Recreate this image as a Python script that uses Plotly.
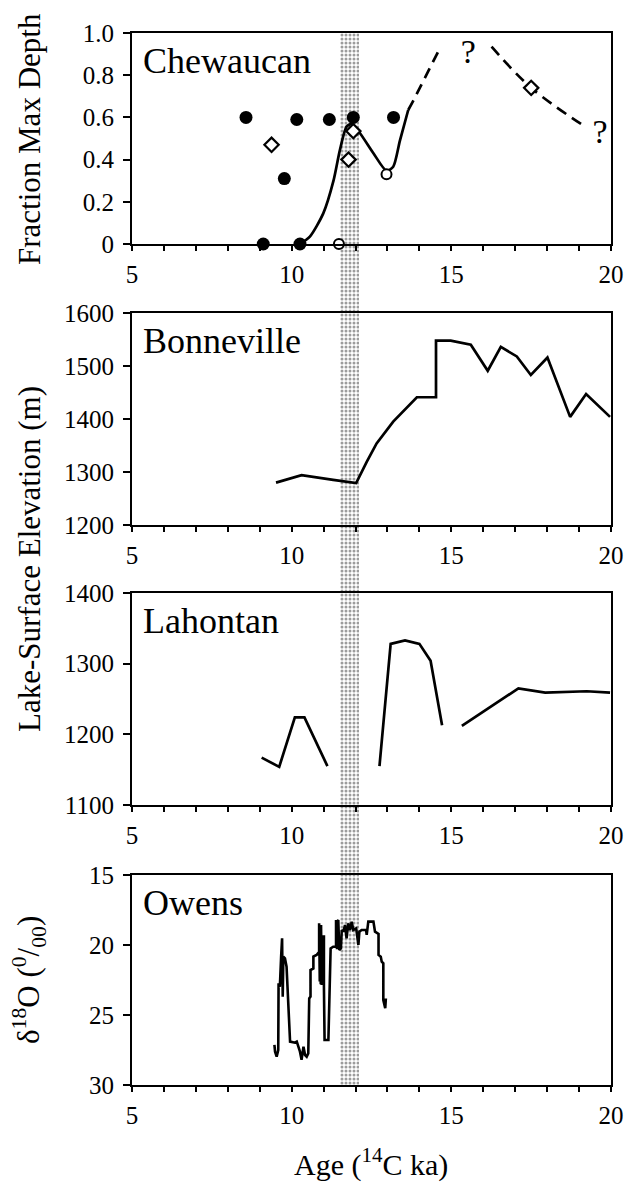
import plotly.graph_objects as go

W, H = 626, 1186
FONT = "Times New Roman, Liberation Serif, serif"

# ---------------- data ----------------
age_ticks = [5, 10, 15, 20]

# Chewaucan (fraction of max depth)
chew_fill_x = [8.57, 9.11, 9.77, 10.16, 10.26, 11.18, 11.93, 13.19]
chew_fill_y = [0.60, 0.0, 0.31, 0.59, 0.0, 0.59, 0.60, 0.60]
chew_open_x = [11.48, 12.97]
chew_open_y = [0.0, 0.33]
chew_diam_x = [9.37, 11.78, 11.93, 17.50]
chew_diam_y = [0.47, 0.40, 0.535, 0.74]
chew_curve_x = [10.26, 10.57, 10.99, 11.31, 11.51, 11.72, 11.88, 12.14, 12.56, 12.97, 13.18, 13.39, 13.65]
chew_curve_y = [0.0, 0.035, 0.145, 0.30, 0.445, 0.556, 0.569, 0.525, 0.43, 0.347, 0.366, 0.49, 0.635]
chew_dash1_x = [13.65, 13.81, 14.18, 14.65]
chew_dash1_y = [0.635, 0.68, 0.79, 0.93]
chew_dash2_x = [16.26, 17.50, 19.19]
chew_dash2_y = [0.935, 0.74, 0.556]
chew_q_x = [15.53, 19.66]
chew_q_y = [0.90, 0.52]
chew_yticks = [0, 0.2, 0.4, 0.6, 0.8, 1.0]
chew_ytext = ["0", "0.2", "0.4", "0.6", "0.8", "1.0"]

# Bonneville (m)
bon_x = [9.51, 10.31, 11.30, 12.02, 12.35, 12.66, 13.18, 13.92, 14.52, 14.52, 14.98, 15.61,
         16.14, 16.55, 17.05, 17.49, 18.01, 18.72, 19.22, 19.97]
bon_y = [1280, 1294, 1285, 1279, 1319, 1354, 1395, 1441, 1441, 1548, 1548, 1540,
         1491, 1536, 1518, 1483, 1516, 1404, 1447, 1404]
bon_yticks = [1200, 1300, 1400, 1500, 1600]

# Lahontan (m), three separate segments (None = gap)
lah_x = [9.06, 9.61, 10.10, 10.40, 11.12, None,
         12.75, 13.10, 13.55, 14.00, 14.35, 14.71, None,
         15.33, 17.10, 17.94, 19.24, 19.97]
lah_y = [1167, 1154, 1224, 1224, 1155, None,
         1155, 1328, 1333, 1328, 1304, 1213, None,
         1212, 1265, 1259, 1261, 1259]
lah_yticks = [1100, 1200, 1300, 1400]

# Owens (delta 18O)
ow_x = [9.46, 9.48, 9.53, 9.58, 9.59, 9.63, 9.67, 9.70, 9.72, 9.74, 9.79, 9.84, 9.95,
        10.10, 10.16, 10.21, 10.26, 10.31, 10.37, 10.42, 10.47, 10.52, 10.55, 10.59, 10.59,
        10.68, 10.68, 10.78, 10.86, 10.86, 10.88, 10.89, 10.91, 10.92, 10.94, 10.95, 11.01,
        11.01, 11.03, 11.15, 11.22, 11.30, 11.39, 11.39, 11.42, 11.44, 11.46, 11.49, 11.54,
        11.57, 11.62, 11.67, 11.72, 11.77, 11.83, 11.88, 11.93, 12.02, 12.06, 12.09, 12.12,
        12.19, 12.33, 12.35, 12.40, 12.56, 12.61, 12.72, 12.72, 12.79, 12.82, 12.87, 12.87,
        12.93, 12.95]
ow_y = [27.14, 27.62, 27.98, 27.50, 22.74, 22.98, 20.83, 19.52, 23.69, 20.83, 20.95, 21.55, 26.90,
        26.98, 26.90, 27.26, 27.62, 28.20, 27.26, 27.86, 27.98, 27.74, 23.81, 23.69, 21.79,
        21.67, 20.83, 20.71, 20.48, 18.45, 22.60, 18.60, 22.80, 18.57, 22.86, 19.40, 19.40,
        22.86, 26.79, 26.79, 20.24, 20.12, 20.12, 18.21, 20.30, 18.30, 18.21, 20.36, 20.24,
        18.93, 19.05, 18.57, 19.52, 18.45, 18.93, 18.33, 18.93, 18.81, 19.40, 20.00, 19.05,
        18.93, 18.93, 19.28, 18.33, 18.33, 19.05, 19.21, 20.71, 20.83, 21.19, 21.31, 23.93,
        24.52, 23.81]
ow_yticks = [15, 20, 25, 30]

# shaded interval (ka)
band_start, band_end = 11.5, 12.1

# ---------------- layout helpers ----------------
def px_y(p):
    return 1 - p / H

def px_x(p):
    return p / W

x_dom = [px_x(132), px_x(611)]
panels = [(33, 244), (313, 525), (593, 805), (875, 1085)]
y_doms = [[px_y(b), px_y(t)] for t, b in panels]

fig = go.Figure()

# band on its own full-height overlay axes (drawn first, beneath panel traces)
fig.add_trace(go.Bar(
    x=[(band_start + band_end) / 2], y=[1], width=[band_end - band_start],
    xaxis="x", yaxis="y", showlegend=False, hoverinfo="skip",
    marker=dict(color="rgba(0,0,0,0)", line=dict(width=0),
                pattern=dict(shape=".", fgcolor="#3a3a3a", bgcolor="rgba(255,255,255,0)",
                             size=4, solidity=0.45, fillmode="overlay")),
))

line_kw = dict(color="black", width=2.7)

# Chewaucan
fig.add_trace(go.Scatter(x=chew_curve_x, y=chew_curve_y, mode="lines", line=dict(shape="spline", smoothing=0.7, **line_kw),
                         xaxis="x2", yaxis="y2", showlegend=False))
fig.add_trace(go.Scatter(x=chew_dash1_x, y=chew_dash1_y, mode="lines",
                         line=dict(shape="spline", dash="11px,7px", **line_kw), xaxis="x2", yaxis="y2", showlegend=False))
fig.add_trace(go.Scatter(x=chew_dash2_x, y=chew_dash2_y, mode="lines",
                         line=dict(shape="spline", dash="11px,7px", **line_kw), xaxis="x2", yaxis="y2", showlegend=False))
fig.add_trace(go.Scatter(x=chew_fill_x, y=chew_fill_y, mode="markers", xaxis="x2", yaxis="y2", showlegend=False,
                         marker=dict(symbol="circle", size=13, color="black", line=dict(width=0)), cliponaxis=False))
fig.add_trace(go.Scatter(x=chew_open_x, y=chew_open_y, mode="markers", xaxis="x2", yaxis="y2", showlegend=False,
                         marker=dict(symbol="circle", size=10, color="white", line=dict(width=2, color="black")), cliponaxis=False))
fig.add_trace(go.Scatter(x=chew_diam_x, y=chew_diam_y, mode="markers", xaxis="x2", yaxis="y2", showlegend=False,
                         marker=dict(symbol="diamond", size=11, color="white", line=dict(width=2.2, color="black"))))
fig.add_trace(go.Scatter(x=chew_q_x, y=chew_q_y, mode="text", text=["?", "?"], xaxis="x2", yaxis="y2", showlegend=False,
                         textfont=dict(family=FONT, size=34, color="black"), cliponaxis=False))

# Bonneville
fig.add_trace(go.Scatter(x=bon_x, y=bon_y, mode="lines", line=line_kw, xaxis="x3", yaxis="y3", showlegend=False))
# Lahontan
fig.add_trace(go.Scatter(x=lah_x, y=lah_y, mode="lines", line=line_kw, xaxis="x4", yaxis="y4",
                         showlegend=False, connectgaps=False))
# Owens
fig.add_trace(go.Scatter(x=ow_x, y=ow_y, mode="lines", line=dict(color="black", width=2.6), xaxis="x5", yaxis="y5",
                         showlegend=False))

tickfont = dict(family=FONT, size=25, color="black")

def xaxis(anchor):
    return dict(domain=x_dom, range=[5, 20], anchor=anchor, tickmode="array", tickvals=age_ticks,
                ticks="outside", ticklen=5, tickwidth=1.5, tickcolor="black",
                minor=dict(tickmode="linear", tick0=5, dtick=1, ticks="outside", ticklen=5, tickwidth=1.5, tickcolor="black"),
                showline=True, linewidth=2.2, linecolor="black", mirror=True, showgrid=False, zeroline=False,
                tickfont=tickfont, ticklabelstandoff=2, automargin=False)

def yaxis(anchor, dom, rng, tv, tt=None):
    d = dict(domain=dom, range=rng, anchor=anchor, tickmode="array", tickvals=tv,
             ticks="outside", ticklen=7, tickwidth=1.5, tickcolor="black",
             showline=True, linewidth=2.2, linecolor="black", mirror=True, showgrid=False, zeroline=False,
             tickfont=tickfont, ticklabelstandoff=4, automargin=False)
    if tt is not None:
        d["ticktext"] = tt
    return d

fig.update_layout(
    width=W, height=H, margin=dict(l=0, r=0, t=0, b=0, pad=0, autoexpand=False), autosize=False,
    paper_bgcolor="white", plot_bgcolor="rgba(0,0,0,0)", showlegend=False, bargap=0,
    xaxis=dict(domain=x_dom, range=[5, 20], visible=False, anchor="y", fixedrange=True, automargin=False),
    yaxis=dict(domain=[y_doms[3][0], y_doms[0][1]], range=[0, 1], visible=False, anchor="x", fixedrange=True,
               automargin=False),
    xaxis2=xaxis("y2"), yaxis2=yaxis("x2", y_doms[0], [0, 1.0], chew_yticks, chew_ytext),
    xaxis3=xaxis("y3"), yaxis3=yaxis("x3", y_doms[1], [1200, 1600], bon_yticks),
    xaxis4=xaxis("y4"), yaxis4=yaxis("x4", y_doms[2], [1100, 1400], lah_yticks),
    xaxis5=xaxis("y5"), yaxis5=yaxis("x5", y_doms[3], [30, 15], ow_yticks),
)

labels = ["Chewaucan", "Bonneville", "Lahontan", "Owens"]
for (t, b), lab in zip(panels, labels):
    fig.add_annotation(text=lab, xref="paper", yref="paper", x=px_x(141), y=px_y(t + 6),
                       xanchor="left", yanchor="top", showarrow=False,
                       font=dict(family=FONT, size=36, color="black"))

title_font = dict(family=FONT, size=31, color="black")
fig.add_annotation(text="Fraction Max Depth", xref="paper", yref="paper", x=px_x(29), y=px_y(139),
                   textangle=-90, showarrow=False, xanchor="center", yanchor="middle", font=title_font)
fig.add_annotation(text="Lake-Surface Elevation (m)", xref="paper", yref="paper", x=px_x(29), y=px_y(559),
                   textangle=-90, showarrow=False, xanchor="center", yanchor="middle", font=title_font)
fig.add_annotation(text="δ<sup>18</sup>O (<sup>0</sup>/<sub>00</sub>)", xref="paper", yref="paper",
                   x=px_x(29), y=px_y(980), textangle=-90, showarrow=False, xanchor="center", yanchor="middle",
                   font=title_font)
fig.add_annotation(text="Age (<sup>14</sup>C ka)", xref="paper", yref="paper", x=px_x(371), y=px_y(1162),
                   showarrow=False, xanchor="center", yanchor="middle", font=dict(family=FONT, size=30, color="black"))

fig.write_html("out.html", config={"responsive": False},
               post_script="document.body.style.margin='0';document.body.style.padding='0';")
